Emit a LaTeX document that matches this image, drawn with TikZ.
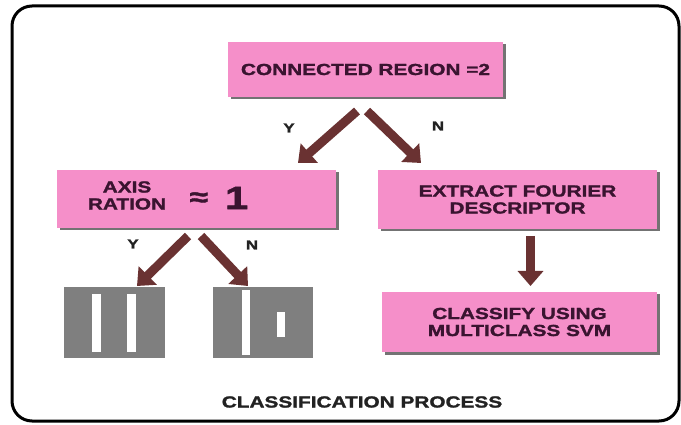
\documentclass[tikz,border=0pt]{standalone}
\usepackage{fontspec}
\setmainfont{Liberation Sans}[FakeStretch=1.3, BoldFeatures={FakeBold=1.6}]
\usetikzlibrary{arrows.meta,shadows}
\definecolor{boxpink}{HTML}{F58FC9}
\definecolor{boxtext}{HTML}{3A1430}
\definecolor{arrowbrown}{HTML}{6A3232}
\definecolor{sqgray}{HTML}{7F7F7F}
\definecolor{labtext}{HTML}{222222}
\tikzset{
  pinkbox/.style={fill=boxpink, draw=none, inner sep=0pt,
    drop shadow={shadow xshift=2.5pt, shadow yshift=-2.5pt, fill=black, opacity=0.55},
    font=\bfseries\fontsize{16}{17}\selectfont, text=boxtext, align=center},
  fatarrow/.style={draw=arrowbrown, line width=9pt, -{Triangle[width=25pt,length=15pt]}},
  yn/.style={font=\bfseries\fontsize{13}{14}\selectfont, text=labtext},
  graysq/.style={fill=sqgray, draw=none, minimum width=101pt, minimum height=70pt, inner sep=0pt}
}
\begin{document}
\begin{tikzpicture}[x=1pt,y=1pt]
\useasboundingbox (0,0) rectangle (681,-425);
\fill[white] (0,0) rectangle (681,-425);
\draw[line width=3pt, rounded corners=20pt] (12,-6) rectangle (679,-421);

\node[pinkbox, minimum width=275pt, minimum height=55pt] (top) at (365.5,-69.5) {CONNECTED REGION =2};
\node[pinkbox, minimum width=279pt, minimum height=58pt] (axis) at (196.5,-199) {};
\node[font=\bfseries\fontsize{16}{17}\selectfont, text=boxtext, align=center] (axislab) at (127,-195.5) {AXIS\\RATION};
\node[font=\bfseries\fontsize{32}{32}\selectfont, text=boxtext, anchor=west] (approx) at (186,-198) {\raisebox{3pt}{\fontsize{26}{26}\selectfont ≈}\kern17pt 1};
\node[pinkbox, minimum width=279pt, minimum height=59pt] (extract) at (517.5,-199.5) {EXTRACT FOURIER\\DESCRIPTOR};
\node[pinkbox, minimum width=275pt, minimum height=60pt] (classify) at (519.5,-322) {CLASSIFY USING\\MULTICLASS SVM};

\node[graysq] (sqa) at (114.5,-322.5) {};
\node[graysq, minimum width=100pt] (sqb) at (263,-322.5) {};
\fill[white] (92,-294) rectangle (101,-352);
\fill[white] (127,-294) rectangle (136,-352);
\fill[white] (242,-290) rectangle (250,-355);
\fill[white] (277,-312) rectangle (285,-337);

\coordinate (a1s) at (357,-111);
\coordinate (a1e) at (298,-163);
\coordinate (a2s) at (367,-111);
\coordinate (a2e) at (421,-163);
\coordinate (b1s) at (188,-236);
\coordinate (b1e) at (137,-286);
\coordinate (b2s) at (201,-236);
\coordinate (b2e) at (248,-286);
\coordinate (c1s) at (530.5,-236);
\coordinate (c1e) at (530.5,-286);
\draw[fatarrow] (a1s) -- (a1e);
\draw[fatarrow] (a2s) -- (a2e);
\draw[fatarrow] (b1s) -- (b1e);
\draw[fatarrow] (b2s) -- (b2e);
\draw[fatarrow] (c1s) -- (c1e);

\node[yn] (y1) at (289,-128) {Y};
\node[yn] (n1) at (438,-126) {N};
\node[yn] (y2) at (133,-244) {Y};
\node[yn] (n2) at (252,-245) {N};

\node[font=\bfseries\fontsize{16}{17}\selectfont, text=labtext] (title) at (362,-402) {CLASSIFICATION PROCESS};
\end{tikzpicture}
\end{document}
